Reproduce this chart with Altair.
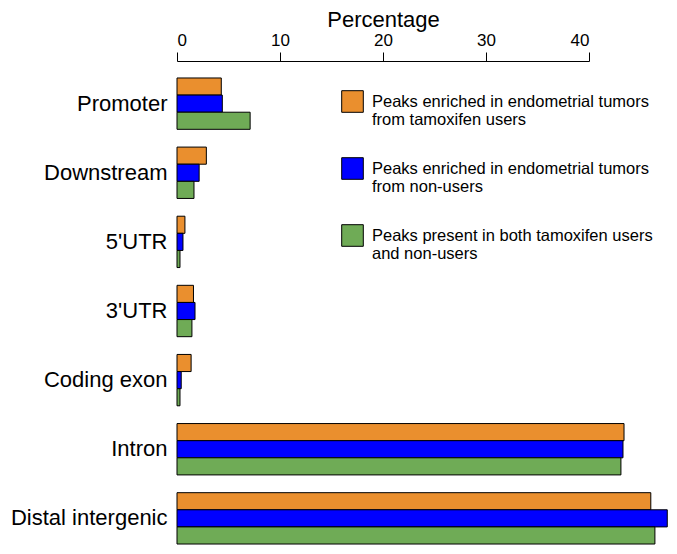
import altair as alt
import pandas as pd

categories = ["Promoter", "Downstream", "5'UTR", "3'UTR", "Coding exon", "Intron", "Distal intergenic"]
series = [
    "Peaks enriched in endometrial tumors|from tamoxifen users",
    "Peaks enriched in endometrial tumors|from non-users",
    "Peaks present in both tamoxifen users|and non-users",
]
tamoxifen_users = [4.3, 2.85, 0.77, 1.6, 1.37, 43.4, 46.0]
non_users = [4.4, 2.15, 0.58, 1.75, 0.41, 43.3, 47.6]
both_groups = [7.1, 1.65, 0.29, 1.45, 0.29, 43.1, 46.4]
colors = ["#EA8F2E", "#0000FF", "#6FAB56"]
x_ticks = [0, 10, 20, 30, 40]

rows = []
for vals, s in zip([tamoxifen_users, non_users, both_groups], series):
    for c, v in zip(categories, vals):
        rows.append({"category": c, "series": s, "value": v})
df = pd.DataFrame(rows)

FONT = "Liberation Sans"

chart = alt.Chart(df).mark_bar(stroke="black", strokeWidth=1).encode(
    x=alt.X(
        "value:Q",
        scale=alt.Scale(domain=[0, 40], nice=False, zero=True),
        axis=alt.Axis(
            orient="top",
            values=x_ticks,
            title="Percentage",
            titleFontSize=22,
            titleFontWeight="normal",
            titleFont=FONT,
            titleColor="black",
            titlePadding=0,
            labelFontSize=17,
            labelFont=FONT,
            labelColor="black",
            labelPadding=3,
            tickSize=9,
            tickColor="black",
            tickWidth=1,
            domainColor="black",
            domainWidth=1,
            grid=False,
            offset=15,
        ),
    ),
    y=alt.Y(
        "category:N",
        sort=categories,
        scale=alt.Scale(paddingInner=0.2571, paddingOuter=0.0286),
        axis=alt.Axis(
            title=None,
            ticks=False,
            domain=False,
            labelFontSize=22,
            labelFont=FONT,
            labelColor="black",
            labelPadding=10,
        ),
    ),
    yOffset=alt.YOffset("series:N", sort=series, scale=alt.Scale(paddingInner=0, paddingOuter=0)),
    color=alt.Color(
        "series:N",
        sort=series,
        scale=alt.Scale(domain=series, range=colors),
        legend=alt.Legend(
            title=None,
            orient="none",
            legendX=164,
            legendY=14,
            symbolType="square",
            symbolSize=467,
            symbolStrokeColor="black",
            symbolStrokeWidth=1,
            symbolOpacity=1,
            labelFontSize=16.5,
            labelFont=FONT,
            labelColor="black",
            labelOffset=8,
            labelLimit=400,
            labelExpr="split(datum.label, '|')",
            rowPadding=26,
            padding=0,
        ),
    ),
).properties(
    width=412,
    height=470,
    autosize=alt.AutoSizeParams(type="none"),
    padding={"left": 169, "top": 68, "right": 80, "bottom": 0},
).configure_view(stroke=None)

chart.save("out.html", embed_options={"renderer": "svg", "actions": False})
